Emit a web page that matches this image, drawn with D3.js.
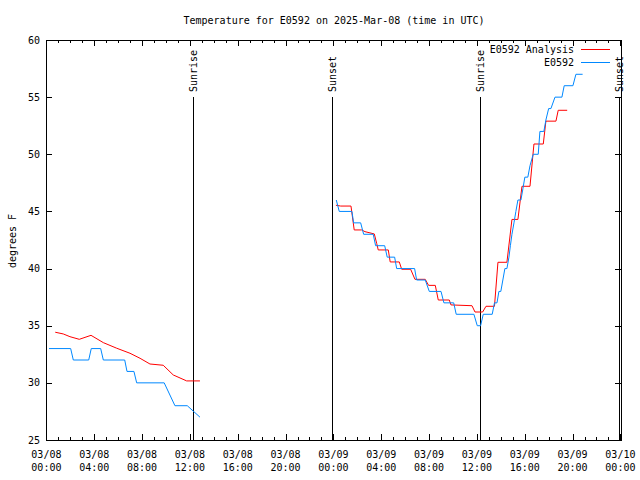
<!DOCTYPE html>
<html><head><meta charset="utf-8">
<script src="https://cdn.jsdelivr.net/npm/d3@7"></script>
<style>
body{margin:0;background:#fff;}
text{font-family:"DejaVu Sans Mono",monospace;font-size:10px;fill:#000;}
</style></head>
<body><svg id="c" width="640" height="480"></svg>
<script>
// Hours since 2025-03-08 00:00 UTC; null splits the data gap
const obsHours  = [0.22,2.03,2.25,3.54,3.75,4.54,4.76,6.55,6.74,7.32,7.55,9.85,10.75,11.78,12.84,null,
  24.24,24.49,25.55,25.69,26.28,26.53,27.33,27.53,28.29,28.50,29.12,29.29,30.79,30.96,31.68,32.02,33.00,33.24,34.06,34.27,35.75,36.03,36.31,36.53,37.28,
  37.47,37.68,37.84,38.00,38.17,38.34,38.51,38.68,38.80,38.93,39.10,39.26,39.43,39.68,39.85,40.01,40.26,40.44,40.71,41.13,41.27,41.60,41.77,42.00,42.19,42.53,43.11,43.30,44.03,44.28,44.84];
const obsTemps  = [33,33,32,32,33,33,32,32,31,31,30,30,28,28,27,null,
  46,45,45,44,44,43,43,42,42,41,41,40,40,39,39,38,38,37,37,36,36,35,35,36,36,
  37,37,38,38,39,40,40,41,42,43,44,45,46,46,47,48,48,49,50,50,52,52,53,54,54,55,55,56,56,57,57];
const anaHours  = [0.74,1.41,1.97,2.75,3.73,4.76,5.88,6.99,7.83,8.66,9.77,10.61,11.73,12.84,null,
  24.21,24.61,25.47,25.74,26.36,26.64,27.42,27.62,27.75,28.59,28.75,29.51,29.71,30.46,30.82,31.68,31.96,32.52,32.77,33.69,33.83,35.59,35.84,36.48,36.76,37.47,37.76,38.51,38.93,39.43,39.77,40.44,40.77,41.55,41.77,42.61,42.80,43.55];
const anaTemps  = [34.43,34.28,34.04,33.81,34.16,33.52,33.03,32.59,32.15,31.65,31.54,30.69,30.17,30.17,null,
  45.54,45.47,45.47,43.38,43.38,43.23,43.03,42.2,41.63,41.63,40.58,40.58,39.94,39.94,39.06,39.06,38.53,38.53,37.25,37.25,36.82,36.75,36.2,36.2,36.7,36.7,40.55,40.55,44.3,44.3,47.2,47.2,50.9,50.9,52.9,52.9,53.85,53.85];
const eventNames = ["Sunrise","Sunset","Sunrise","Sunset"];
const eventHours = [12.28,23.85,36.28,47.85];
const yTicks = [25,30,35,40,45,50,55,60];
const xTickHours = [0,4,8,12,16,20,24,28,32,36,40,44,48];
const seriesNames = ["E0592 Analysis","E0592"];
const seriesColors = ["#ff0000","#0088ff"];

const t0 = Date.UTC(2025,2,8,0,0);
const toDate = h => new Date(t0 + h*3600000);
const L=46, R=621, T=40, B=440;
const x = d3.scaleUtc().domain([toDate(0), toDate(48)]).range([46.4, 620.4]);
const y = d3.scaleLinear().domain([25,60]).range([B,T]);
const svg = d3.select("#c");
const fmtD = d3.utcFormat("%m/%d"), fmtT = d3.utcFormat("%H:%M");

// x ticks bottom/top
const g = svg.append("g").attr("shape-rendering","crispEdges").attr("stroke","#000");
const minor = d3.range(0,49,1);
minor.forEach(h=>{
  const major = h%4===0;
  const len = major?6:3;
  const xx = Math.round(x(toDate(h)))+0.5;
  g.append("line").attr("x1",xx).attr("x2",xx).attr("y1",B).attr("y2",B-len);
  g.append("line").attr("x1",xx).attr("x2",xx).attr("y1",T).attr("y2",T+len);
});
yTicks.forEach(v=>{
  const yy = Math.round(y(v))+0.5;
  g.append("line").attr("x1",L).attr("x2",L+6).attr("y1",yy).attr("y2",yy);
  g.append("line").attr("x1",R).attr("x2",R-6).attr("y1",yy).attr("y2",yy);
});
svg.append("rect").attr("x",L+0.5).attr("y",T+0.5).attr("width",R-L).attr("height",B-T)
  .attr("fill","none").attr("stroke","#000").attr("shape-rendering","crispEdges");

// tick labels
xTickHours.forEach(h=>{
  const d = toDate(h), xx = x(d);
  svg.append("text").attr("x",xx).attr("y",458).attr("text-anchor","middle").text(fmtD(d));
  svg.append("text").attr("x",xx).attr("y",471).attr("text-anchor","middle").text(fmtT(d));
});
yTicks.forEach(v=>{
  svg.append("text").attr("x",40).attr("y",y(v)+3.5).attr("text-anchor","end").text(v);
});
svg.append("text").attr("transform","translate(16,241) rotate(-90)").attr("text-anchor","middle").text("degrees F");
svg.append("text").attr("x",334).attr("y",24).attr("text-anchor","middle").text("Temperature for E0592 on 2025-Mar-08 (time in UTC)");

// events
eventHours.forEach((h,i)=>{
  const xx = Math.round(x(toDate(h)))+0.5;
  svg.append("line").attr("x1",xx).attr("x2",xx).attr("y1",97).attr("y2",B)
    .attr("stroke","#000").attr("shape-rendering","crispEdges");
  svg.append("text").attr("transform",`translate(${xx+3.5},92) rotate(-90)`).attr("text-anchor","start").text(eventNames[i]);
});

// series
const line = d3.line().defined(d=>d[1]!==null).x(d=>x(toDate(d[0]))).y(d=>y(d[1]));
const anaData = anaHours.map((h,i)=>[h,anaTemps[i]]);
const obsData = obsHours.map((h,i)=>[h,obsTemps[i]]);
svg.append("path").datum(anaData).attr("d",line).attr("fill","none").attr("stroke",seriesColors[0]).attr("stroke-width",1);
svg.append("path").datum(obsData).attr("d",line).attr("fill","none").attr("stroke",seriesColors[1]).attr("stroke-width",1);

// legend
seriesNames.forEach((n,i)=>{
  const yy = 49 + i*13;
  svg.append("text").attr("x",574).attr("y",yy+3.5).attr("text-anchor","end").text(n);
  svg.append("line").attr("x1",581).attr("x2",610).attr("y1",yy+0.5).attr("y2",yy+0.5)
    .attr("stroke",seriesColors[i]).attr("stroke-width",1).attr("shape-rendering","crispEdges");
});
</script></body></html>
